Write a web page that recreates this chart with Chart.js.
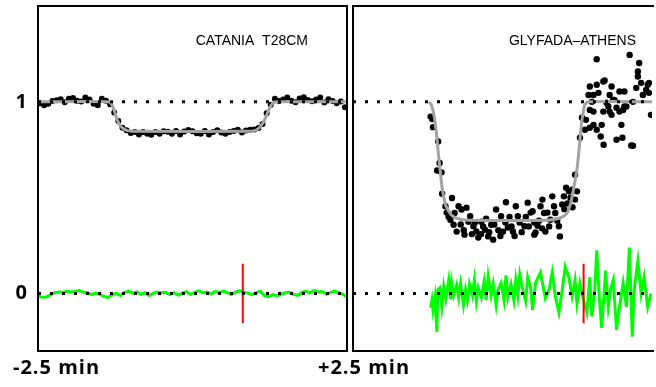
<!DOCTYPE html>
<html lang="en">
<head>
<meta charset="UTF-8">
<title>Light curves</title>
<style>
  html, body { margin: 0; padding: 0; overflow: hidden; background: #fff; }
  body { width: 656px; height: 387px; position: relative; font-family: "Open Sans", Arial, sans-serif; }
  canvas { position: absolute; top: 0; }
  #leftChart { left: 0; }
  #rightChart { left: 348px; }
  .xlab { position: absolute; top: 357px; font-weight: bold; font-size: 20px; line-height: 20px; letter-spacing: 1px; color: #000; white-space: nowrap; }
</style>
<script src="https://cdn.jsdelivr.net/npm/chart.js"></script>
</head>
<body>
<canvas id="leftChart" width="352" height="387"></canvas>
<canvas id="rightChart" width="308" height="387"></canvas>
<div class="xlab" style="left:13px">-2.5 min</div>
<div class="xlab" style="left:318px">+2.5 min</div>
<script>
// time in seconds from mid-event, relative flux
const refLevels = [0, 1];
const markHalf = 0.155;

// Catania T28CM
const catT = [-148,-144,-140,-136,-132,-128,-124,-120,-116,-112,
  -108,-104,-100,-96,-92,-88,-84,-80,-76,-72,
  -68,-64,-60,-56,-52,-48,-44,-40,-36,-32,
  -28,-24,-20,-16,-12,-8,-4,0,4,8,
  12,16,20,24,28,32,36,40,44,48,
  52,56,60,64,68,72,76,80,84,88,
  92,96,100,104,108,112,116,120,124,128,
  132,136,140,144,148];
const catFlux = [0.992,0.982,0.99,1.004,1.008,1.014,0.998,1.016,1.02,1.006,
  1.002,1.022,1.012,0.99,0.982,1.016,1.006,0.988,0.945,0.9,
  0.865,0.852,0.838,0.842,0.83,0.843,0.834,0.828,0.842,0.833,
  0.846,0.844,0.834,0.848,0.83,0.845,0.853,0.846,0.836,0.834,
  0.848,0.83,0.842,0.852,0.84,0.834,0.842,0.848,0.854,0.84,
  0.85,0.855,0.856,0.864,0.885,0.94,0.985,1.016,1.004,1.012,
  1.022,1.006,0.998,1.018,1.024,1.01,1.003,1.012,1.022,0.996,
  1.014,1.004,0.993,1.002,0.972];
const catModelT = [-150,-82,-79,-76,-73,-70,-67,-63,-58,55,60,64,67,70,73,76,79,83,150];
const catModelF = [1.0,1.0,0.99,0.955,0.905,0.875,0.86,0.85,0.846,0.846,0.85,0.86,0.88,0.905,0.945,0.98,0.997,1.0,1.0];
const catResT = [-150,-146,-142,-138,-134,-130,-126,-122,-118,-114,
  -110,-106,-102,-98,-94,-90,-86,-82,-78,-74,
  -70,-66,-62,-58,-54,-50,-46,-42,-38,-34,
  -30,-26,-22,-18,-14,-10,-6,-2,2,6,
  10,14,18,22,26,30,34,38,42,46,
  50,54,58,62,66,70,74,78,82,86,
  90,94,98,102,106,110,114,118,122,126,
  130,134,138,142,146,150];
const catRes = [-0.012,-0.020,-0.018,-0.008,0.004,0.008,0.006,0.012,0.008,0.010,
  0.016,0.006,0.004,-0.006,0.002,-0.004,-0.016,-0.020,-0.008,0.002,
  -0.010,0.006,0.012,0.002,0.008,-0.004,0.004,-0.010,0.002,0.008,
  0.004,0.006,-0.006,0.004,-0.008,0.002,0.010,-0.004,0.006,0.014,
  0.004,0.008,-0.002,0.010,0.006,0.012,0.004,-0.006,0.008,0.014,
  0.006,0.002,-0.006,0.004,0.012,-0.012,-0.016,-0.006,-0.012,-0.004,
  0.004,0.008,-0.004,-0.010,0.006,0.012,0.002,0.016,0.008,0.010,
  -0.004,0.006,0.012,0.004,-0.004,-0.018];
const catMarkT = 48.8;

// Glyfada-Athens
const glyT = [-73.6,-72.0,-71.3,-66.2,-64.8,-67.2,-62.9,-62.3,-52.6,-59.0,
  -57.8,-54.2,-46.1,-43.2,-38.3,-34.7,-31.5,-28.6,-26.7,-20.2,
  -17.0,-14.0,-9.2,-4.3,0.5,2.4,7.3,10.2,12.2,18.7,
  21.9,26.7,29.6,24.8,28.4,34.5,36.4,41.3,44.2,46.1,
  47.8,52.6,53.6,55.9,57.5,59.7,62.4,65.6,68.5,70.4,
  68.5,-51,-48,-40.3,-36.4,-23.8,-12.1,-2.4,31.6,39.3,
  28.4,-56,-50,-44,-41,-33,-30,-24,-22,-19,
  -16,-11,-7,-5,0,4,6,9,14,16,
  20,23,33,36,38,43,49,51,58,61,
  64,66,73.3,78.2,75.3,79.2,81.8,89.8,91.5,97.6,
  101.2,104.4,86.6,89.8,94.7,93.7,96.6,109.3,115.1,114.1,
  125.5,109.3,117,119,125.5,128.7,133.5,138.4,141.3,131.6,
  130.3,130.3,122.2,89.8,99.5,102.5,107.3,112.2,135.2,143.2,
  83,85,83,123.8,96.3,83,86.6,102.5,106,112.2,
  117,140,141.3,86.6,96.3,104.4,115.8];
const glyFlux = [0.923,0.910,0.868,0.793,0.681,0.642,0.632,0.521,0.498,0.455,
  0.422,0.385,0.455,0.438,0.448,0.403,0.351,0.324,0.292,0.333,
  0.298,0.359,0.438,0.403,0.476,0.344,0.324,0.455,0.403,0.351,
  0.474,0.429,0.318,0.422,0.370,0.455,0.490,0.422,0.385,0.507,
  0.455,0.351,0.298,0.464,0.507,0.552,0.533,0.542,0.490,0.533,
  0.620,0.359,0.323,0.307,0.375,0.375,0.281,0.323,0.354,0.323,
  0.307,0.40,0.42,0.36,0.33,0.31,0.37,0.31,0.35,0.39,
  0.32,0.36,0.33,0.30,0.37,0.40,0.35,0.30,0.37,0.32,
  0.40,0.35,0.38,0.34,0.42,0.35,0.42,0.38,0.44,0.47,
  0.50,0.45,0.8125,0.854,0.917,0.906,1.036,1.089,1.047,1.111,
  0.976,1.080,0.880,0.854,0.880,0.819,0.776,0.802,0.8125,0.880,
  0.771,0.969,1.054,0.976,1.0,1.073,1.099,1.0625,1.099,1.203,
  1.158,1.132,1.245,1.222,0.995,0.949,1.010,0.949,1.036,0.932,
  0.958,1.0,0.865,0.772,1.106,1.08,1.036,1.036,1.01,1.054,
  0.976,1.089,1.047,0.949,0.949,0.932,0.958];
const glyModelT = [-75.2,-72.5,-70,-68,-66,-64,-62,-59,-56,-51,-44,-36,40,51,56,60.7,64.6,67.5,70.4,72.4,74.3,76.3,78.2,82,145];
const glyModelF = [1.0,0.98,0.92,0.84,0.73,0.63,0.54,0.465,0.43,0.40,0.387,0.382,0.382,0.39,0.40,0.42,0.48,0.56,0.65,0.75,0.86,0.94,0.985,1.0,1.0];
const glyResT = [-73.6,-72.3,-71.3,-69.4,-67.5,-66.5,-64.6,-62.6,-60.7,-58.7,
  -55.8,-53.9,-52.9,-51.0,-48.0,-46.1,-44.2,-41.3,-39.3,-37.4,
  -35.4,-32.5,-30.6,-28.6,-26.7,-23.8,-20.9,-18.9,-17.0,-14.1,
  -12.1,-9.2,-7.3,-4.3,-1.4,0.5,2.4,5.4,8.3,10.2,
  12.2,14.1,17.0,19.9,21.9,24.8,26.7,29.6,34.5,39.3,
  42.9,46.1,49.1,52.6,55.9,58.8,62.4,65.6,68.5,70.4,
  73.3,76.9,80.1,83.0,85.0,87.9,89.8,92.5,94.7,96.6,
  98.6,101.2,103.4,106.1,109.3,112.2,115.8,119.0,121.9,124.8,
  126.7,130.3,133.5,136.4,140.0,143.2];
const glyRes = [-0.075,-0.035,-0.085,-0.02,-0.20,0.02,0.03,-0.07,0.035,-0.03,
  0.07,-0.03,0.055,-0.01,0.045,-0.02,0.05,-0.06,0.02,-0.035,
  0.05,-0.01,0.07,-0.04,0.03,-0.02,0.065,-0.035,0.09,-0.01,
  0.05,-0.06,0.02,0.055,-0.035,0.095,-0.02,0.05,-0.035,0.07,
  -0.01,0.10,0.02,-0.04,0.085,0.03,-0.085,0.055,0.11,-0.025,
  0.02,0.11,-0.015,-0.10,0.02,0.14,0.085,-0.015,0.07,-0.05,
  0.055,-0.035,-0.10,0.085,-0.12,0.02,0.225,-0.035,-0.18,-0.035,
  0.12,-0.07,0.02,0.07,-0.19,-0.07,0.055,-0.07,0.24,-0.225,
  0.02,0.17,0.0,0.085,-0.07,0.0];
const glyMarkT = 76.9;

const pairs = (xs, ys) => xs.map((x, i) => ({ x: x, y: ys[i] }));

const framePlugin = {
  id: 'frame',
  afterDatasetsDraw(chart, args, opts) {
    const { left, right, top, bottom } = chart.chartArea;
    const ctx = chart.ctx;
    ctx.save();
    ctx.strokeStyle = '#000';
    ctx.lineWidth = 2;
    ctx.beginPath();
    if (opts.open) {
      ctx.moveTo(right + 2, top);
      ctx.lineTo(left, top);
      ctx.lineTo(left, bottom);
      ctx.lineTo(right + 2, bottom);
    } else {
      ctx.rect(left, top, right - left, bottom - top);
    }
    ctx.stroke();
    ctx.font = '14px "Liberation Sans", Arial, sans-serif';
    ctx.fillStyle = '#000';
    ctx.textAlign = 'right';
    ctx.textBaseline = 'middle';
    ctx.fillText(opts.label, right - opts.inset, top + 35);
    ctx.restore();
  }
};

function panel(id, o) {
  const datasets = [
    { data: pairs([-150, o.xmax], [refLevels[1], refLevels[1]]), borderColor: '#000', borderWidth: 3, borderDash: [3, 9], pointRadius: 0, showLine: true, order: 0 },
    { data: pairs([-150, o.xmax], [refLevels[0], refLevels[0]]), borderColor: '#000', borderWidth: 3, borderDash: [3, 9], pointRadius: 0, showLine: true, order: 0 },
    { data: pairs([o.markT, o.markT], [-markHalf, markHalf]), borderColor: '#ff0000', borderWidth: 2, pointRadius: 0, showLine: true, order: 1 },
    { data: pairs(o.resT, o.res), borderColor: '#00ff00', borderWidth: 3, pointRadius: 0, showLine: true, order: 2 },
    { data: pairs(o.modelT, o.modelF), borderColor: '#a3a3a3', borderWidth: 3, pointRadius: 0, showLine: true, tension: 0.3, order: 3 },
    { data: pairs(o.t, o.flux), backgroundColor: '#000', borderWidth: 0, pointRadius: o.dot, showLine: false, order: 4 }
  ];
  return new Chart(document.getElementById(id), {
    type: 'scatter',
    data: { datasets: datasets },
    options: {
      responsive: false,
      animation: false,
      devicePixelRatio: 1,
      layout: { padding: o.pad },
      plugins: { legend: { display: false }, tooltip: { enabled: false }, frame: { label: o.label, inset: o.inset, open: o.open } },
      scales: {
        x: { type: 'linear', min: -150, max: o.xmax, display: false },
        y: {
          min: -0.3, max: 1.5, display: o.showY,
          grid: { display: false, drawTicks: false },
          border: { display: false },
          afterBuildTicks: s => { s.ticks = refLevels.map(v => ({ value: v })); },
          afterFit: s => {
            s.width = o.showY ? 38 : 0;
            s.paddingTop = 0;
            s.paddingBottom = 0;
          },
          ticks: { color: '#000', padding: 11, font: { family: '"Open Sans", Arial, sans-serif', size: 20, weight: 'bold' } }
        }
      }
    },
    plugins: [framePlugin]
  });
}

panel('leftChart', {
  t: catT, flux: catFlux, modelT: catModelT, modelF: catModelF, resT: catResT, res: catRes,
  markT: catMarkT, xmax: 150, dot: 3, label: 'CATANIA  T28CM', inset: 39, open: false,
  showY: true, pad: { left: 0, top: 6, right: 5, bottom: 36 }
});
panel('rightChart', {
  t: glyT, flux: glyFlux, modelT: glyModelT, modelF: glyModelF, resT: glyResT, res: glyRes,
  markT: glyMarkT, xmax: 144.2, dot: 3.2, label: 'GLYFADA\u2013ATHENS', inset: 16, open: true,
  showY: false, pad: { left: 5, top: 6, right: 0, bottom: 36 }
});
</script>
</body>
</html>
